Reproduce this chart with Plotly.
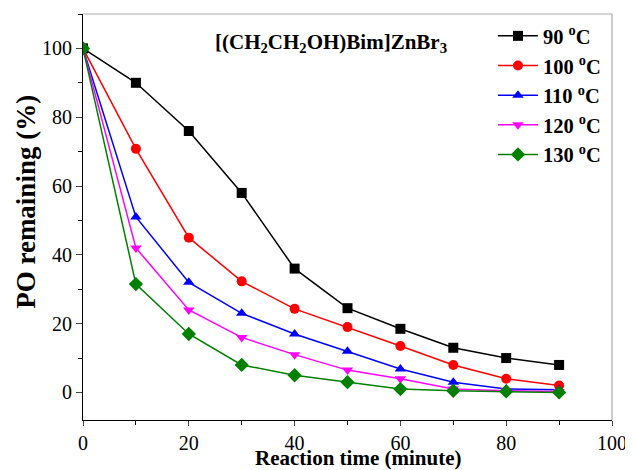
import plotly.graph_objects as go

time_min = [0, 10, 20, 30, 40, 50, 60, 70, 80, 90]
series_names = ["90 <sup>o</sup>C", "100 <sup>o</sup>C", "110 <sup>o</sup>C", "120 <sup>o</sup>C", "130 <sup>o</sup>C"]
po_90 = [100, 90, 76, 58, 36, 24.5, 18.5, 13, 10, 8]
po_100 = [100, 70.8, 45, 32.3, 24.3, 19, 13.5, 8, 4, 2]
po_110 = [100, 51, 32, 23, 17, 12, 6.8, 3, 1, 0.8]
po_120 = [100, 42, 24, 16, 11, 6.5, 4, 1, 0.5, 0.3]
po_130 = [100, 31.5, 17, 8, 5, 3, 1, 0.5, 0.3, 0]
x_ticks = [0, 20, 40, 60, 80, 100]
y_ticks = [0, 20, 40, 60, 80, 100]

colors = ["#000000", "#ff0000", "#0000ff", "#ff00ff", "#008000"]
symbols = ["square", "circle", "triangle-up", "triangle-down", "diamond"]
data = [po_90, po_100, po_110, po_120, po_130]

fig = go.Figure()
for name, ys, c, s in zip(series_names, data, colors, symbols):
    fig.add_trace(go.Scatter(
        x=time_min, y=ys, name="<b>" + name + "</b>", mode="lines+markers",
        line=dict(color=c, width=1.5),
        marker=dict(symbol=s, size=10 if s != "diamond" else 11, color=c),
    ))

font = "Liberation Serif"
# page body has an 8px margin, so the figure is sized 8px smaller
fig.update_layout(
    width=625, height=462,
    margin=dict(l=75, r=21, t=6, b=50),
    plot_bgcolor="white", paper_bgcolor="white",
    showlegend=True,
    legend=dict(x=0.775, y=0.995, xanchor="left", yanchor="top",
                font=dict(family=font, size=20.5, color="black"),
                bgcolor="rgba(0,0,0,0)", tracegroupgap=0, itemwidth=40),
    xaxis=dict(range=[0, 100], tickvals=x_ticks, ticks="outside", ticklen=5,
               tickwidth=1.2, linecolor="black", linewidth=1.2, showgrid=False,
               zeroline=False, automargin=False,
               tickprefix="<b>", ticksuffix="</b>",
               minor=dict(dtick=10, ticks="outside", ticklen=4, tickcolor="black"),
               tickfont=dict(family=font, size=20, color="black")),
    yaxis=dict(range=[-8, 110], tickvals=y_ticks, ticks="outside", ticklen=6,
               tickwidth=1.2, linecolor="black", linewidth=1.2, showgrid=False,
               zeroline=False, automargin=False,
               tickprefix="<b>", ticksuffix="</b>",
               minor=dict(dtick=10, tick0=0, ticks="outside", ticklen=4, tickcolor="black"),
               tickfont=dict(family=font, size=20, color="black")),
    shapes=[
        dict(type="line", xref="paper", yref="paper", x0=0, x1=1, y0=1, y1=1,
             line=dict(color="#aaaaaa", width=1.2)),
        dict(type="line", xref="paper", yref="paper", x0=1, x1=1, y0=0, y1=1,
             line=dict(color="#aaaaaa", width=1.2)),
    ],
    annotations=[
        dict(text="<b>[(CH<sub>2</sub>CH<sub>2</sub>OH)Bim]ZnBr<sub>3</sub></b>",
             x=0.468, y=0.965, xref="paper", yref="paper", xanchor="center", yanchor="top",
             showarrow=False, font=dict(family=font, size=21, color="black")),
        dict(text="<b>Reaction time (minute)</b>",
             x=0.52, y=-0.0936, xref="paper", yref="paper", xanchor="center", yanchor="middle",
             showarrow=False, font=dict(family=font, size=21, color="black")),
        dict(text="<b>PO remaining (%)</b>", textangle=-90,
             x=-0.108, y=0.537, xref="paper", yref="paper", xanchor="center", yanchor="middle",
             showarrow=False, font=dict(family=font, size=27, color="black")),
    ],
)
fig.write_html("out.html")
